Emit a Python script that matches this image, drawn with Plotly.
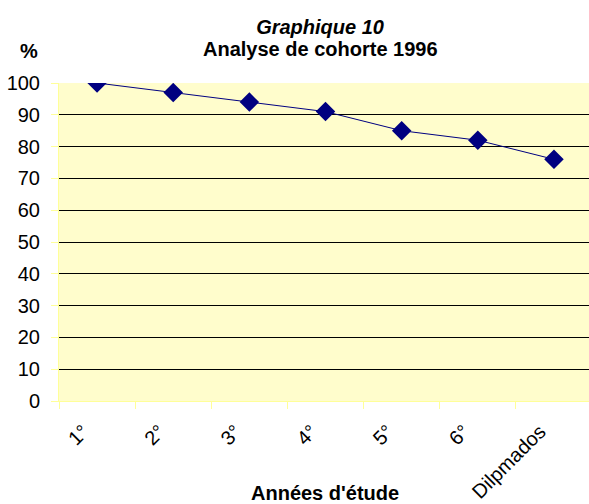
import plotly.graph_objects as go

annees = ["1°", "2°", "3°", "4°", "5°", "6°", "Dilpmados"]
pourcentages = [100, 97, 94, 91, 85, 82, 76]

police = "Arial, Liberation Sans, sans-serif"
jaune_pale = "#FFFF99"

fig = go.Figure()

fig.add_trace(go.Scatter(
    x=annees,
    y=pourcentages,
    mode="lines+markers",
    line=dict(color="#000080", width=1),
    marker=dict(symbol="diamond", size=15, color="#000080"),
    showlegend=False
))

fig.update_layout(
    width=589,
    height=504,
    paper_bgcolor="white",
    plot_bgcolor="#FFFDCC",
    margin=dict(l=59, r=0, t=83, b=103),
    font=dict(family=police, size=20, color="black"),
    title=dict(
        text="<b><i>Graphique 10</i></b>",
        font=dict(size=20),
        x=0.5434, xanchor="center",
        y=1 - 27 / 504, yanchor="middle"
    ),
    annotations=[
        dict(text="<b>Analyse de cohorte 1996</b>", xref="paper", yref="paper",
             x=(320 - 59) / 530, y=(401 - 49) / 318, showarrow=False,
             xanchor="center", yanchor="middle", font=dict(size=20)),
        dict(text="<b>%</b>", xref="paper", yref="paper",
             x=(29 - 59) / 530, y=(401 - 51) / 318, showarrow=False,
             xanchor="center", yanchor="middle", font=dict(size=20)),
        dict(text="<b>Années d'étude</b>", xref="paper", yref="paper",
             x=(325 - 59) / 530, y=(401 - 493) / 318, showarrow=False,
             xanchor="center", yanchor="middle", font=dict(size=20)),
    ]
)

fig.update_xaxes(
    type="category",
    range=[-0.5, 6.46],
    automargin=False,
    showgrid=False,
    showline=True, linecolor=jaune_pale, linewidth=1,
    ticks="outside", tickson="boundaries", ticklen=7, tickcolor=jaune_pale,
    tickangle=-45,
    ticklabelstandoff=10,
    ticklabelshift=-14,
    tickfont=dict(size=20)
)

fig.update_yaxes(
    range=[0, 100],
    dtick=10,
    automargin=False,
    showgrid=True, gridcolor="#000000", gridwidth=1,
    zeroline=False,
    showline=True, linecolor=jaune_pale, linewidth=1,
    ticks="outside", ticklen=7, tickcolor=jaune_pale,
    ticklabelstandoff=7,
    tickfont=dict(size=20)
)

# la page ne doit pas décaler le graphique
fig.write_html("out.html",
               config={"displayModeBar": False},
               post_script="document.body.style.margin='0';document.body.style.overflow='hidden';")
